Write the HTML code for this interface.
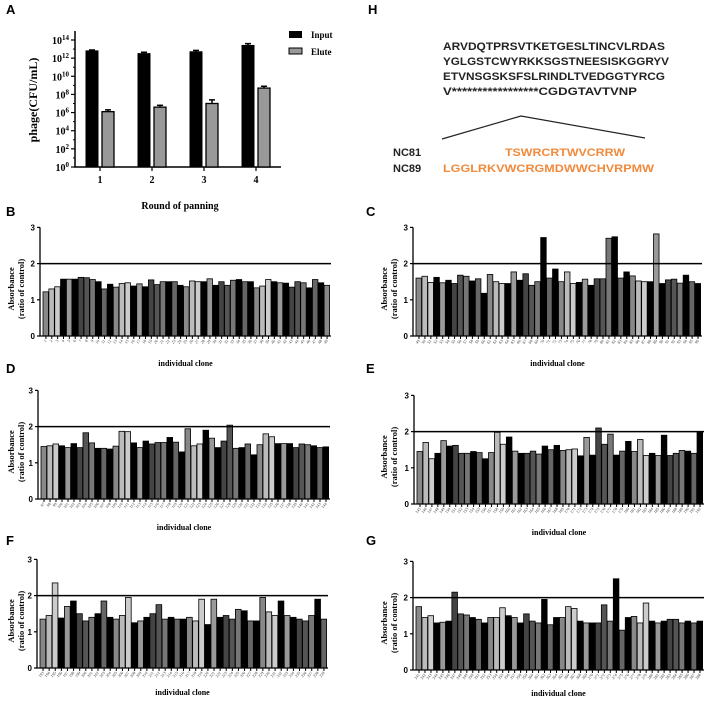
<!DOCTYPE html>
<html><head><meta charset="utf-8">
<style>
body{margin:0;background:#fff;}
svg{display:block;font-family:"Liberation Serif",serif;}
.pl{font-family:"Liberation Sans",sans-serif;font-weight:bold;font-size:13px;}
</style></head>
<body>
<svg id="fig" width="708" height="704" viewBox="0 0 708 704">
<text class="pl" x="6" y="14">A</text>
<text class="pl" x="368" y="14">H</text>
<text class="pl" x="6" y="216">B</text>
<text class="pl" x="366" y="216">C</text>
<text class="pl" x="6" y="373">D</text>
<text class="pl" x="366" y="373">E</text>
<text class="pl" x="6" y="545">F</text>
<text class="pl" x="366" y="545">G</text>
<g id="panelA"></g>
<g id="panelH" font-family="Liberation Sans, sans-serif" font-weight="bold" font-size="11">
<text x="443" y="50" textLength="222" lengthAdjust="spacingAndGlyphs" fill="#222">ARVDQTPRSVTKETGESLTINCVLRDAS</text>
<text x="443" y="65" textLength="226" lengthAdjust="spacingAndGlyphs" fill="#222">YGLGSTCWYRKKSGSTNEESISKGGRYV</text>
<text x="443" y="80" textLength="222" lengthAdjust="spacingAndGlyphs" fill="#222">ETVNSGSKSFSLRINDLTVEDGGTYRCG</text>
<text x="443" y="95" textLength="194" lengthAdjust="spacingAndGlyphs" fill="#222">V*****************CGDGTAVTVNP</text>
<polyline points="442,139 521,116 645,138" fill="none" stroke="#222" stroke-width="1.2"/>
<text x="393" y="156" fill="#222">NC81</text>
<text x="393" y="172" fill="#222">NC89</text>
<text x="505" y="156" textLength="120" lengthAdjust="spacingAndGlyphs" fill="#f08a3c">TSWRCRTWVCRRW</text>
<text x="443" y="172" textLength="211" lengthAdjust="spacingAndGlyphs" fill="#f08a3c">LGGLRKVWCRGMDWWCHVRPMW</text>
</g>
</svg>
<script>
// ---- Panel A data ----
const roundsA = ["1","2","3","4"];
const inputLogA = [12.8, 12.5, 12.7, 13.4];
const eluteLogA = [6.1, 6.6, 7.0, 8.7];
const inputErrA = [0.1, 0.15, 0.15, 0.2];
const eluteErrA = [0.2, 0.2, 0.4, 0.2];
const tickExpA = [0,2,4,6,8,10,12,14];

// ---- Clone panels data ----
const valsB = [1.22,1.3,1.36,1.57,1.57,1.57,1.62,1.61,1.56,1.5,1.3,1.43,1.35,1.45,1.47,1.38,1.44,1.36,1.55,1.42,1.5,1.5,1.5,1.4,1.36,1.52,1.5,1.5,1.58,1.4,1.5,1.4,1.54,1.56,1.5,1.5,1.33,1.38,1.56,1.5,1.47,1.46,1.35,1.5,1.47,1.33,1.56,1.47,1.4];
const valsC = [1.6,1.65,1.48,1.62,1.47,1.54,1.45,1.68,1.65,1.52,1.58,1.18,1.7,1.5,1.45,1.45,1.77,1.54,1.72,1.4,1.5,2.72,1.6,1.85,1.5,1.77,1.45,1.48,1.57,1.4,1.58,1.58,2.7,2.74,1.6,1.77,1.66,1.52,1.5,1.5,2.82,1.45,1.55,1.57,1.46,1.68,1.5,1.45];
const valsD = [1.45,1.47,1.52,1.47,1.42,1.53,1.42,1.83,1.55,1.4,1.4,1.38,1.46,1.87,1.86,1.55,1.42,1.6,1.52,1.56,1.56,1.7,1.57,1.3,1.94,1.47,1.52,1.9,1.68,1.42,1.6,2.04,1.4,1.42,1.52,1.22,1.5,1.8,1.72,1.53,1.53,1.53,1.42,1.52,1.5,1.47,1.42,1.44];
const valsE = [1.45,1.7,1.25,1.4,1.75,1.6,1.62,1.4,1.4,1.45,1.42,1.25,1.42,1.98,1.65,1.85,1.46,1.4,1.4,1.46,1.38,1.6,1.5,1.62,1.48,1.5,1.52,1.33,1.84,1.35,2.1,1.65,1.93,1.35,1.46,1.73,1.45,1.78,1.34,1.4,1.34,1.9,1.34,1.4,1.48,1.46,1.4,1.98];
const valsF = [1.35,1.45,2.35,1.38,1.7,1.85,1.5,1.3,1.4,1.5,1.85,1.4,1.35,1.45,1.95,1.25,1.3,1.4,1.5,1.75,1.35,1.4,1.35,1.35,1.4,1.3,1.9,1.2,1.9,1.4,1.45,1.35,1.62,1.58,1.3,1.3,1.95,1.55,1.45,1.85,1.45,1.4,1.35,1.3,1.45,1.9,1.35];
const valsG = [1.75,1.45,1.5,1.3,1.32,1.35,2.15,1.55,1.52,1.45,1.4,1.3,1.45,1.45,1.72,1.5,1.45,1.3,1.55,1.35,1.3,1.95,1.25,1.45,1.45,1.75,1.7,1.35,1.3,1.3,1.3,1.8,1.35,2.52,1.1,1.45,1.48,1.3,1.85,1.35,1.3,1.35,1.4,1.4,1.3,1.35,1.3,1.35];
const startB = 1, startC = 49, startD = 97, startE = 145, startF = 193, startG = 241;
const ticksY = [0,1,2,3];
const thresholdY = 2;

const NS = "http://www.w3.org/2000/svg";
const fig = document.getElementById('fig');
function mk(tag, attrs, parent){ const e=document.createElementNS(NS,tag); for(const k in attrs) e.setAttribute(k,attrs[k]); (parent||fig).appendChild(e); return e; }

// ---- Panel A ----
(function(){
  const g = document.getElementById('panelA');
  const x0=75, x1=281, yb=167, pxPerExp=(167-40)/14;
  const y = v => yb - v*pxPerExp;
  const cx = i => 100 + i*52;
  let ax = mk('path',{d:`M${x0} 31 V${yb} H${x1}`,stroke:'#000','stroke-width':1.5,fill:'none'},g);
   
  tickExpA.forEach(e=>{
    mk('line',{x1:x0-4,x2:x0,y1:y(e),y2:y(e),stroke:'#000','stroke-width':1.2},g);
    const t=mk('text',{x:x0-6,y:y(e)+4,'text-anchor':'end','font-size':10,'font-weight':'bold'},g);
    t.innerHTML='10<tspan dy="-4" font-size="7">'+e+'</tspan>';
     
  });
  for(let e=1;e<15;e+=1){ if(e%2) mk('line',{x1:x0-2,x2:x0,y1:y(e),y2:y(e),stroke:'#000'},g); }
  roundsA.forEach((r,i)=>{
    const b1=mk('rect',{x:cx(i)-14,y:y(inputLogA[i]),width:12,height:yb-y(inputLogA[i]),fill:'#000',stroke:'#000'},g);
     
    mk('line',{x1:cx(i)-8,x2:cx(i)-8,y1:y(inputLogA[i]+inputErrA[i]),y2:y(inputLogA[i]),stroke:'#000','stroke-width':1.5},g);
    mk('line',{x1:cx(i)-11,x2:cx(i)-5,y1:y(inputLogA[i]+inputErrA[i]),y2:y(inputLogA[i]+inputErrA[i]),stroke:'#000','stroke-width':1.5},g);
    const b2=mk('rect',{x:cx(i)+2,y:y(eluteLogA[i]),width:12,height:yb-y(eluteLogA[i]),fill:'#999',stroke:'#000','stroke-width':1.3},g);
     
    mk('line',{x1:cx(i)+8,x2:cx(i)+8,y1:y(eluteLogA[i]+eluteErrA[i]),y2:y(eluteLogA[i]),stroke:'#000','stroke-width':1.5},g);
    mk('line',{x1:cx(i)+5,x2:cx(i)+11,y1:y(eluteLogA[i]+eluteErrA[i]),y2:y(eluteLogA[i]+eluteErrA[i]),stroke:'#000','stroke-width':1.5},g);
    mk('line',{x1:cx(i),x2:cx(i),y1:yb,y2:yb+4,stroke:'#000','stroke-width':1.2},g);
    const t=mk('text',{x:cx(i),y:yb+16,'text-anchor':'middle','font-size':10,'font-weight':'bold'},g);
    t.textContent=r;  
  });
  let t=mk('text',{x:180,y:209,'text-anchor':'middle','font-size':10,'font-weight':'bold'},g);
  t.textContent='Round of panning';  
  t=mk('text',{x:0,y:0,transform:'translate(37,100) rotate(-90)','text-anchor':'middle','font-size':12,'font-weight':'bold'},g);
  t.textContent='phage(CFU/mL)';  
  let r=mk('rect',{x:289,y:31,width:13,height:7,fill:'#000'},g);
   
  t=mk('text',{x:311,y:38,'font-size':9,'font-weight':'bold'},g); t.textContent='Input';
   
  r=mk('rect',{x:289,y:48,width:13,height:6,fill:'#999',stroke:'#000'},g);
   
  t=mk('text',{x:311,y:55,'font-size':9,'font-weight':'bold'},g); t.textContent='Elute';
   
})();

// ---- Clone panels ----
const fills = ['#000','#888','#555','#ccc','#000','#999','#000','#444','#bbb','#777','#000','#666'];
function clonePanel(name, vals, start, x0, x1, yb, titleX, labelY){
  const g = mk('g',{});
   
  const unit = 36.2;
  const y = v => yb - v*unit;
  const n = vals.length, bw = (x1-x0-4)/n;
  const bx = i => x0+3+i*bw;
  vals.forEach((v,i)=>{
    const r=mk('rect',{x:bx(i),y:y(v),width:bw-0.4,height:yb-y(v),fill:fills[(i*7+start)%fills.length],stroke:'#000','stroke-width':0.8},g);
     
    mk('line',{x1:bx(i)+bw/2,x2:bx(i)+bw/2,y1:yb,y2:yb+3,stroke:'#000','stroke-width':1},g);
    const t=mk('text',{x:0,y:0,transform:`translate(${bx(i)+bw/2+1},${yb+5}) rotate(-50)`,'text-anchor':'end','font-size':4,fill:'#333'},g);
    t.textContent=String(start+i);  
  });
  const ax=mk('path',{d:`M${x0} ${y(3)} V${yb} H${x1}`,stroke:'#000','stroke-width':1.3,fill:'none'},g);
   
  ticksY.forEach(v=>{
    mk('line',{x1:x0-3,x2:x0,y1:y(v),y2:y(v),stroke:'#000','stroke-width':1.2},g);
    const t=mk('text',{x:x0-5,y:y(v)+3,'text-anchor':'end','font-size':8,'font-weight':'bold','font-family':'Liberation Sans, sans-serif'},g);
    t.textContent=v;  
  });
  const th=mk('line',{x1:x0,x2:x1,y1:y(thresholdY),y2:y(thresholdY),stroke:'#000','stroke-width':1.5},g);
   
  let t=mk('text',{x:(x0+x1)/2,y:labelY,'text-anchor':'middle','font-size':8,'font-weight':'bold'},g);
  t.textContent='individual clone';  
  const my=y(1.3);
  t=mk('text',{x:0,y:0,transform:`translate(${titleX},${my}) rotate(-90)`,'text-anchor':'middle','font-size':8.5,'font-weight':'bold'},g);
  t.textContent='Absorbance';  
  t=mk('text',{x:0,y:0,transform:`translate(${titleX+10},${my}) rotate(-90)`,'text-anchor':'middle','font-size':8.5,'font-weight':'bold'},g);
  t.textContent='(ratio of control)';  
}
clonePanel('b', valsB, startB, 40, 331, 336, 14, 366);
clonePanel('c', valsC, startC, 413, 702, 336, 387, 366);
clonePanel('d', valsD, startD, 38, 330, 499, 14, 530);
clonePanel('e', valsE, startE, 414, 704, 504, 387, 535);
clonePanel('f', valsF, startF, 37, 328, 668, 14, 695);
clonePanel('g', valsG, startG, 413, 704, 670, 387, 696);
</script>
</body></html>
